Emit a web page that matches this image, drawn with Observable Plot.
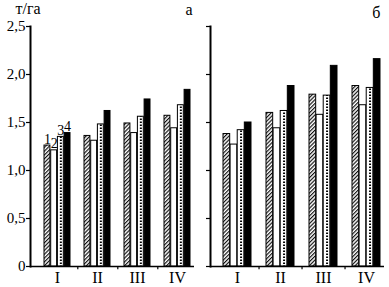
<!DOCTYPE html>
<html><head><meta charset="utf-8">
<script src="https://cdn.jsdelivr.net/npm/d3@7"></script>
<script src="https://cdn.jsdelivr.net/npm/@observablehq/plot@0.6"></script>
<style>
body{margin:0;background:#fff;}
#wrap{position:relative;width:389px;height:287px;overflow:hidden;}
#wrap svg{position:absolute;top:0;}
</style></head><body><div id="wrap"></div>
<script>
const groups = ["I", "II", "III", "IV"];
const barLabels = ["1", "2", "3", "4"];
const panelLabels = ["а", "б"];
const unitLabel = "т/га";
const yTicks = [0, 0.5, 1.0, 1.5, 2.0, 2.5];
const yTickLabels = ["0", "0,5", "1,0", "1,5", "2,0", "2,5"];

// panel а
const a1 = [1.26, 1.36, 1.49, 1.57];
const a2 = [1.21, 1.31, 1.39, 1.44];
const a3 = [1.35, 1.48, 1.56, 1.68];
const a4 = [1.39, 1.62, 1.74, 1.84];
// panel б
const b1 = [1.38, 1.60, 1.79, 1.88];
const b2 = [1.27, 1.44, 1.58, 1.68];
const b3 = [1.42, 1.62, 1.78, 1.86];
const b4 = [1.50, 1.88, 2.09, 2.16];

const fills = ["hatch", "white", "white", "black"];
const PI = 0.34, PO = 0.19, ALIGN = 0.78;

function panel(id, series, opts) {
  const {width, left, mL, mR, showY, label, labelDx, labelDy, showBarLabels} = opts;
  const height = 287, mT = 26, mB = 21;
  const W = width - mL - mR;
  const step = W / (groups.length - PI + 2 * PO);
  const bw = step * (1 - PI);
  const barW = bw / 4;
  const marks = [];
  series.forEach((vals, k) => {
    const data = groups.map((g, i) => ({g, v: vals[i]}));
    const fill = fills[k] === "hatch" ? `url(#hatch-${id})` : fills[k];
    marks.push(Plot.barY(data, {
      x: "g", y: "v", fill,
      stroke: "black", strokeWidth: 1,
      insetLeft: k * barW, insetRight: (3 - k) * barW
    }));
    if (k === 2) {
      marks.push(Plot.ruleX(data, {
        x: "g", y1: 0, y2: "v", dx: 0.5 * barW,
        stroke: "black", strokeWidth: 2, strokeDasharray: "1.6,1.4", insetTop: 1
      }));
    }
  });
  if (showBarLabels) {
    series.forEach((vals, k) => {
      marks.push(Plot.text([{g: groups[0], v: vals[0], t: barLabels[k]}], {
        x: "g", y: "v", text: "t", dx: (k - 1.5) * barW, dy: -2,
        lineAnchor: "bottom", fontSize: 14, fill: "black"
      }));
    });
  }
  // between-group ticks on the x axis
  marks.push(Plot.ruleX(groups.slice(0, -1), {
    x: d => d, y1: 0, y2: -0.035, dx: step / 2, stroke: "black", strokeWidth: 1.2
  }));
  marks.push(Plot.ruleY([0], {stroke: "black", strokeWidth: 1.6}));
  marks.push(Plot.frame({anchor: "left", stroke: "black", strokeWidth: 2}));
  marks.push(Plot.axisY({
    ticks: yTicks, tickSize: 4, tickPadding: 1,
    tickFormat: showY ? (d => yTickLabels[yTicks.indexOf(d)]) : (() => ""),
    fontSize: 15, label: null, stroke: "black", strokeWidth: 1.2, fill: "black"
  }));
  marks.push(Plot.axisX({tickSize: 0, tickPadding: 5, fontSize: 16, label: null, fill: "black"}));
  if (showY) {
    marks.push(Plot.text([unitLabel], {
      frameAnchor: "top-left", dx: -15, dy: -18, textAnchor: "start",
      lineAnchor: "middle", fontSize: 16, fill: "black"
    }));
  }
  marks.push(Plot.text([label], {
    frameAnchor: "top-right", dx: labelDx, dy: labelDy, textAnchor: "end",
    lineAnchor: "middle", fontSize: 16, fill: "black"
  }));
  const svg = Plot.plot({
    width, height,
    marginLeft: mL, marginRight: mR, marginTop: mT, marginBottom: mB,
    style: {fontFamily: "Liberation Serif", fontSize: "15px", color: "black", background: "white", overflow: "visible"},
    x: {type: "band", domain: groups, paddingInner: PI, paddingOuter: PO, align: ALIGN, axis: null},
    y: {domain: [0, 2.5], axis: null},
    marks
  });
  d3.select(svg).insert("defs", ":first-child").html(
    `<pattern id="hatch-${id}" patternUnits="userSpaceOnUse" width="2.7" height="2.7" patternTransform="rotate(45)">
       <rect width="2.7" height="2.7" fill="white"/>
       <line x1="0.6" y1="0" x2="0.6" y2="2.7" stroke="black" stroke-width="1.1"/>
     </pattern>`);
  svg.style.left = left + "px";
  document.getElementById("wrap").appendChild(svg);
}

panel("a", [a1, a2, a3, a4], {width: 200, left: 0, mL: 30, mR: 6, showY: true,
  label: panelLabels[0], labelDx: -2, labelDy: -17, showBarLabels: true});
panel("b", [b1, b2, b3, b4], {width: 189, left: 200, mL: 10, mR: 5, showY: false,
  label: panelLabels[1], labelDx: -4, labelDy: -14, showBarLabels: false});
</script>
</body></html>
